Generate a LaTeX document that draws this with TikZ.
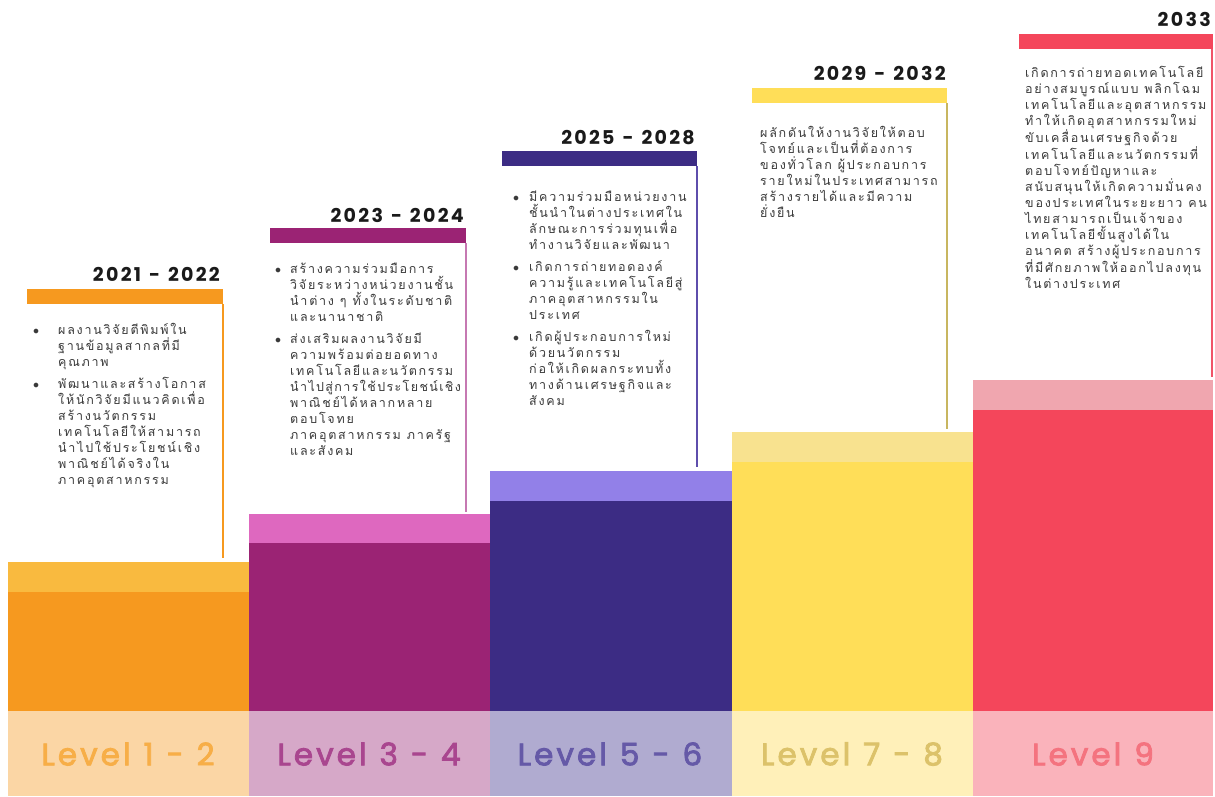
\documentclass[tikz,border=0pt]{standalone}
\usepackage{fontspec}
\setmainfont{Poppins}
\newfontfamily\thaifont[Script=Thai,LetterSpace=14]{Loma}
\newfontfamily\yearfont[LetterSpace=12]{Poppins}
\newfontfamily\lvlfont[LetterSpace=10,FakeBold=2.6]{Poppins}

% column palettes: main, light cap, bottom band, label, leader line
\definecolor{oMain}{HTML}{F6991F}\definecolor{oCap}{HTML}{F9BA3F}\definecolor{oBand}{HTML}{FBD6A5}\definecolor{oLbl}{HTML}{F7AE47}\definecolor{oLine}{HTML}{F6991F}
\definecolor{mMain}{HTML}{9B2374}\definecolor{mCap}{HTML}{DE68BF}\definecolor{mBand}{HTML}{D6A8C8}\definecolor{mLbl}{HTML}{A9468F}\definecolor{mLine}{HTML}{C679B2}
\definecolor{pMain}{HTML}{3C2C84}\definecolor{pCap}{HTML}{9280E8}\definecolor{pBand}{HTML}{B0ABD0}\definecolor{pLbl}{HTML}{6559A7}\definecolor{pLine}{HTML}{5E4EAC}
\definecolor{yMain}{HTML}{FFDE58}\definecolor{yCap}{HTML}{F8E28F}\definecolor{yBand}{HTML}{FFF0B9}\definecolor{yLbl}{HTML}{DCC26A}\definecolor{yLine}{HTML}{C8B660}
\definecolor{rMain}{HTML}{F4465B}\definecolor{rCap}{HTML}{F0A6AF}\definecolor{rBand}{HTML}{FAB3BB}\definecolor{rLbl}{HTML}{F4737F}\definecolor{rLine}{HTML}{F05468}
\definecolor{yearink}{HTML}{1A1A1A}
\definecolor{bodyink}{HTML}{3A3A3A}

\newcommand{\bul}[1]{\makebox[#1][l]{$\bullet$}}
\newcommand{\ind}[1]{\hspace*{#1}}
\newcommand{\gap}{\hspace{0.42em}}

\begin{document}
\begin{tikzpicture}[x=1pt,y=-1pt,
  yeartxt/.style={font=\yearfont\bfseries\fontsize{19}{22}\selectfont, text=yearink, anchor=base east, inner sep=0pt},
  body/.style={font=\thaifont\fontsize{12.5}{16}\selectfont, text=bodyink, align=left, anchor=north west, inner sep=0pt},
  lvl/.style={font=\lvlfont\fontsize{31}{35}\selectfont, anchor=center, inner sep=0pt},
  leader/.style={line width=1.2pt}]

\fill[white] (0,0) rectangle (1215,796);
\useasboundingbox (0,0) rectangle (1215,796);

% ---- steps: cap, body, band ----
\fill[oCap]  (8,562)   rectangle (249,592);
\fill[oMain] (8,592)   rectangle (249,711);
\fill[oBand] (8,711)   rectangle (249,796);
\fill[mCap]  (249,514) rectangle (490,543);
\fill[mMain] (249,543) rectangle (490,711);
\fill[mBand] (249,711) rectangle (490,796);
\fill[pCap]  (490,471) rectangle (732,501);
\fill[pMain] (490,501) rectangle (732,711);
\fill[pBand] (490,711) rectangle (732,796);
\fill[yCap]  (732,432) rectangle (973,462);
\fill[yMain] (732,462) rectangle (973,711);
\fill[yBand] (732,711) rectangle (973,796);
\fill[rCap]  (973,380) rectangle (1213,410);
\fill[rMain] (973,410) rectangle (1213,711);
\fill[rBand] (973,711) rectangle (1213,796);

% ---- level labels ----
\node[lvl, text=oLbl] (lv1) at (128,754) {Level\gap 1\gap -\gap 2};
\node[lvl, text=mLbl] (lv2) at (369,754) {Level\gap 3\gap -\gap 4};
\node[lvl, text=pLbl] (lv3) at (610,754) {Level\gap 5\gap -\gap 6};
\node[lvl, text=yLbl] (lv4) at (852,754) {Level\gap 7\gap -\gap 8};
\node[lvl, text=rLbl] (lv5) at (1093,754) {Level\gap 9};

% ---- header bars and leader lines ----
\fill[oMain] (27,289)   rectangle (223,304);
\fill[mMain] (270,228)  rectangle (466,243);
\fill[pMain] (502,151)  rectangle (697,166);
\fill[yMain] (752,88)   rectangle (947,103);
\fill[rMain] (1019,34)  rectangle (1213,49);
\coordinate (t1) at (223,304);  \coordinate (s1) at (223,558);
\coordinate (t2) at (466,243);  \coordinate (s2) at (466,512);
\coordinate (t3) at (697,166);  \coordinate (s3) at (697,467);
\coordinate (t4) at (947,103);  \coordinate (s4) at (947,429);
\coordinate (t5) at (1212,49);  \coordinate (s5) at (1212,377);
\draw[leader, oLine] (t1) -- (s1);
\draw[leader, mLine] (t2) -- (s2);
\draw[leader, pLine] (t3) -- (s3);
\draw[leader, yLine] (t4) -- (s4);
\draw[leader, rLine] (t5) -- (s5);

% ---- years ----
\node[yeartxt] (y1) at (220,281) {2021\gap -\gap 2022};
\node[yeartxt] (y2) at (464,222) {2023\gap -\gap 2024};
\node[yeartxt] (y3) at (695,144) {2025\gap -\gap 2028};
\node[yeartxt] (y4) at (946,80)  {2029\gap -\gap 2032};
\node[yeartxt] (y5) at (1211,26) {2033};

% ---- descriptions ----
\node[body] (d1) at (33,323) {%
\bul{25pt}ผลงานวิจัยตีพิมพ์ใน\\
\ind{25pt}ฐานข้อมูลสากลที่มี\\
\ind{25pt}คุณภาพ\\[6pt]
\bul{25pt}พัฒนาและสร้างโอกาส\\
\ind{25pt}ให้นักวิจัยมีแนวคิดเพื่อ\\
\ind{25pt}สร้างนวัตกรรม\\
\ind{25pt}เทคโนโลยีให้สามารถ\\
\ind{25pt}นำไปใช้ประโยชน์เชิง\\
\ind{25pt}พาณิชย์ได้จริงใน\\
\ind{25pt}ภาคอุตสาหกรรม};

\node[body] (d2) at (275,263) {%
\bul{15pt}สร้างความร่วมมือการ\\
\ind{15pt}วิจัยระหว่างหน่วยงานชั้น\\
\ind{15pt}นำต่าง ๆ ทั้งในระดับชาติ\\
\ind{15pt}และนานาชาติ\\[6pt]
\bul{15pt}ส่งเสริมผลงานวิจัยมี\\
\ind{15pt}ความพร้อมต่อยอดทาง\\
\ind{15pt}เทคโนโลยีและนวัตกรรม\\
\ind{15pt}{\addfontfeature{LetterSpace=11}นำไปสู่การใช้ประโยชน์เชิง}\\
\ind{15pt}พาณิชย์ได้หลากหลาย\\
\ind{15pt}ตอบโจทย\\
\ind{15pt}ภาคอุตสาหกรรม ภาครัฐ\\
\ind{15pt}และสังคม};

\node[body] (d3) at (513,191) {%
\bul{16pt}มีความร่วมมือหน่วยงาน\\
\ind{16pt}ชั้นนำในต่างประเทศใน\\
\ind{16pt}ลักษณะการร่วมทุนเพื่อ\\
\ind{16pt}ทำงานวิจัยและพัฒนา\\[6pt]
\bul{16pt}เกิดการถ่ายทอดองค์\\
\ind{16pt}ความรู้และเทคโนโลยีสู่\\
\ind{16pt}ภาคอุตสาหกรรมใน\\
\ind{16pt}ประเทศ\\[6pt]
\bul{16pt}เกิดผู้ประกอบการใหม่\\
\ind{16pt}ด้วยนวัตกรรม\\
\ind{16pt}ก่อให้เกิดผลกระทบทั้ง\\
\ind{16pt}ทางด้านเศรษฐกิจและ\\
\ind{16pt}สังคม};

\node[body] (d4) at (760,126) {%
ผลักดันให้งานวิจัยให้ตอบ\\
โจทย์และเป็นที่ต้องการ\\
ของทั่วโลก ผู้ประกอบการ\\
รายใหม่ในประเทศสามารถ\\
สร้างรายได้และมีความ\\
ยั่งยืน};

\node[body] (d5) at (1025,66) {%
เกิดการถ่ายทอดเทคโนโลยี\\
อย่างสมบูรณ์แบบ พลิกโฉม\\
เทคโนโลยีและอุตสาหกรรม\\
ทำให้เกิดอุตสาหกรรมใหม่\\
ขับเคลื่อนเศรษฐกิจด้วย\\
เทคโนโลยีและนวัตกรรมที่\\
ตอบโจทย์ปัญหาและ\\
สนับสนุนให้เกิดความมั่นคง\\
ของประเทศในระยะยาว คน\\
ไทยสามารถเป็นเจ้าของ\\
เทคโนโลยีขั้นสูงได้ใน\\
อนาคต สร้างผู้ประกอบการ\\
ที่มีศักยภาพให้ออกไปลงทุน\\
ในต่างประเทศ};

\end{tikzpicture}
\end{document}
